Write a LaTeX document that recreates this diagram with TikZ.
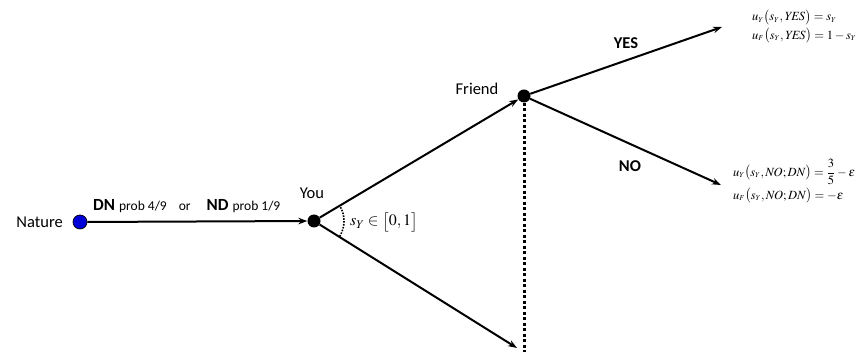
\documentclass[tikz,border=0pt]{standalone}
\usepackage{mathptmx}
\usepackage[no-math]{fontspec}
\setmainfont{Carlito}
\usetikzlibrary{arrows.meta,calc}
\begin{document}
\begin{tikzpicture}[x=1pt,y=-1pt,
  branch/.style={line width=2pt,-{Stealth[length=9pt,width=6.5pt]}},
  dotnode/.style={circle,fill=black,inner sep=0pt,minimum size=13pt},
  lbl/.style={font=\fontsize{16.5}{19}\selectfont,inner sep=0pt},
  act/.style={font=\bfseries\fontsize{16.5}{19}\selectfont,inner sep=0pt},
  pay/.style={font=\fontsize{12.5}{14}\selectfont,anchor=west,inner sep=0pt}]
\useasboundingbox (0,0) rectangle (857,352);
\node[circle,draw=black,fill=blue!85!black,inner sep=0pt,minimum size=14pt,line width=0.7pt] (nature) at (80,222) {};
\node[lbl,anchor=east] (naturelbl) at (63,222) {Nature};
\node[dotnode] (you) at (314,221) {};
\node[lbl] (youlbl) at (312,193) {You};
\node[dotnode] (friend) at (524,96) {};
\node[lbl] (friendlbl) at (477,89) {Friend};
\coordinate (low) at (517,348);
\coordinate (bot) at (524,352);
\coordinate (yesend) at (722,27);
\coordinate (noend) at (721,185);
\draw[branch] (nature) -- (you);
\node[anchor=base west,inner sep=0pt] (mv) at (93,211) {\textbf{\fontsize{17}{19}\selectfont DN}\hspace{4pt}{\fontsize{13.5}{15}\selectfont prob 4/9}\hspace{12pt}{\fontsize{13.5}{15}\selectfont or}\hspace{16pt}\textbf{\fontsize{17}{19}\selectfont ND}\hspace{4pt}{\fontsize{13.5}{15}\selectfont prob 1/9}};
\draw[branch] (you) -- (friend);
\draw[branch] (you) -- (low);
\draw[line width=3pt,dash pattern=on 3pt off 2.5pt] (friend.south) -- (bot);
\draw[line width=1.6pt,dash pattern=on 1.6pt off 1.3pt] ($(you)+(31:30)$) arc[start angle=31,end angle=-31,radius=30];
\node[font=\fontsize{16}{18}\selectfont,anchor=west,inner sep=0pt] (sy) at (350,222) {$s_Y\in\bigl[0,1\bigr]$};
\draw[branch] (friend) -- (yesend);
\draw[branch] (friend) -- (noend);
\node[act] (yes) at (626,43) {YES};
\node[act] (no) at (630,166) {NO};
\node[pay] (p1) at (752,17.5) {$u_{\scriptscriptstyle Y}\bigl(s_{\scriptscriptstyle Y},\mathit{YES}\bigr)=s_{\scriptscriptstyle Y}$};
\node[pay] (p2) at (752,36) {$u_{\scriptscriptstyle F}\bigl(s_{\scriptscriptstyle Y},\mathit{YES}\bigr)=1-s_{\scriptscriptstyle Y}$};
\node[pay] (p3) at (733,172) {$u_{\scriptscriptstyle Y}\bigl(s_{\scriptscriptstyle Y},\mathit{NO};\mathit{DN}\bigr)={\displaystyle\frac{3}{5}}-\varepsilon$};
\node[pay] (p4) at (733,196) {$u_{\scriptscriptstyle F}\bigl(s_{\scriptscriptstyle Y},\mathit{NO};\mathit{DN}\bigr)=-\varepsilon$};
\end{tikzpicture}
\end{document}
